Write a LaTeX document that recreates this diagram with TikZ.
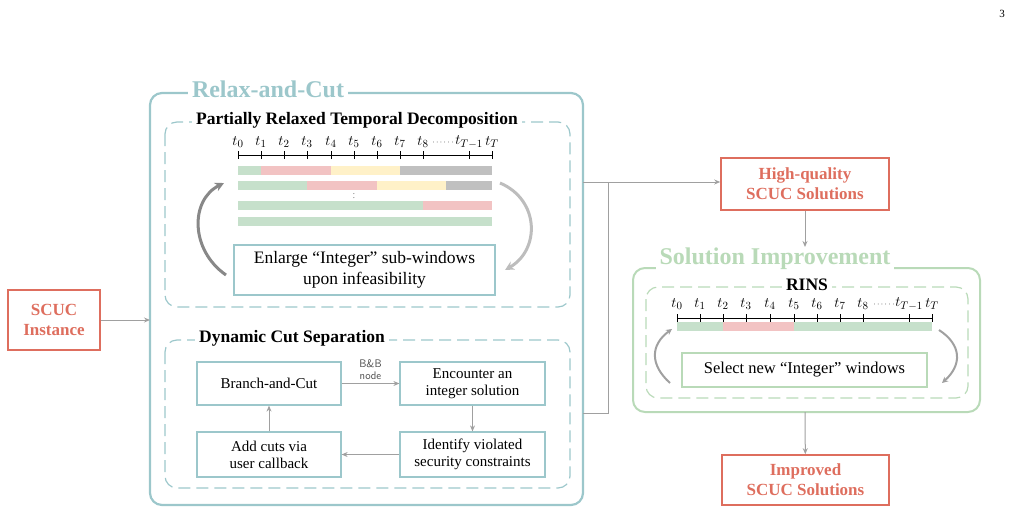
\documentclass[tikz,border=0pt]{standalone}
\usepackage{fontspec}
\setmainfont{Liberation Serif}
\usetikzlibrary{arrows.meta}
\definecolor{teal1}{HTML}{9CC7CB}
\definecolor{grn1}{HTML}{B9DAB8}
\definecolor{red1}{HTML}{DE6E5E}
\definecolor{barg}{HTML}{C6E0CB}
\definecolor{barp}{HTML}{F2C3C3}
\definecolor{bary}{HTML}{FFF1C8}
\definecolor{bargr}{HTML}{C0C0C0}
\definecolor{arr}{HTML}{A0A0A0}
\tikzset{
 redbox/.style={draw=red1,line width=1.6pt,text=red1,font=\bfseries\fontsize{17}{20}\selectfont,align=center,inner sep=0},
 tbox/.style={draw=teal1,line width=1.2pt,align=center,font=\fontsize{15}{17}\selectfont,inner sep=0},
 gbox/.style={draw=grn1,line width=1.2pt,align=center,font=\fontsize{15}{17}\selectfont,inner sep=0},
 conn/.style={draw=arr,line width=1pt,-{Stealth[length=6pt,width=5pt]}},
 curv/.style={draw=arr!85!black,line width=3pt,-{Stealth[length=9pt,width=9pt]}},
 curvs/.style={draw=arr,line width=2pt,-{Stealth[length=6pt,width=6pt]}},
 title/.style={fill=white,inner xsep=4pt,inner ysep=1pt,font=\bfseries},
 tl/.style={font=\fontsize{15}{16}\selectfont,inner sep=0}
}
\begin{document}
\begin{tikzpicture}[x=1pt,y=-1pt]
\useasboundingbox (0,0) rectangle (1014,514);
\node at (1002,14) {\fontsize{11}{12}\selectfont 3};
% SCUC instance
\node[redbox,minimum width=92,minimum height=60] (inst) at (54,320) {SCUC\\Instance};
% Relax-and-cut
\draw[teal1,line width=2.2pt,rounded corners=12] (150,93) rectangle (583,505);
\node[title,text=teal1,font=\bfseries\fontsize{24}{26}\selectfont] at (268,89) {Relax-and-Cut};
\coordinate (rcL) at (150,320);
\draw[conn] (inst) -- (rcL);
\draw[teal1,line width=1.2pt,dash pattern=on 12pt off 6pt,rounded corners=12] (165,122) rectangle (570,307);
\node[title,font=\bfseries\fontsize{17.5}{19}\selectfont] at (357,120) {Partially Relaxed Temporal Decomposition};
% timeline
\draw[line width=0.8pt] (238,155) -- (492,155);
\foreach \x/\l in {238/t_0,261/t_1,284/t_2,307/t_3,331/t_4,354/t_5,377/t_6,400/t_7,423/t_8,469/t_{T-1},492/t_T}{
 \draw[line width=0.8pt] (\x,151) -- (\x,159);
 \node[tl] at (\x,142) {$\l$};}
\node[tl,font=\fontsize{8}{9}\selectfont] at (443,143) {$\cdots\cdots$};
\fill[barg] (238,166) rectangle (261,175);
\fill[barp] (261,166) rectangle (331,175);
\fill[bary] (331,166) rectangle (400,175);
\fill[bargr] (400,166) rectangle (492,175);
\fill[barg] (238,181) rectangle (307,190);
\fill[barp] (307,181) rectangle (377,190);
\fill[bary] (377,181) rectangle (446,190);
\fill[bargr] (446,181) rectangle (492,190);
\node[inner sep=0,font=\fontsize{7}{7}\selectfont] at (354,195.5) {$\vdots$};
\fill[barg] (238,201) rectangle (423,210);
\fill[barp] (423,201) rectangle (492,210);
\fill[barg] (238,217) rectangle (492,226);
\node[tbox,minimum width=261,minimum height=50,font=\fontsize{17.5}{21}\selectfont] (enl) at (364.5,270) {Enlarge “Integer” sub-windows\\upon infeasibility};
\coordinate (la) at (226,275); \coordinate (lb) at (224,183);
\coordinate (ra) at (500,183); \coordinate (rb) at (505,270);
\draw[curv] (la) .. controls (190,250) and (190,200) .. (lb);
\draw[curv,draw=arr!70] (ra) .. controls (540,200) and (540,250) .. (rb);
% dynamic cut separation
\draw[teal1,line width=1.2pt,dash pattern=on 12pt off 6pt,rounded corners=12] (165,340) rectangle (570,488);
\node[title,font=\bfseries\fontsize{17.5}{19}\selectfont] at (292,338) {Dynamic Cut Separation};
\node[tbox,minimum width=144,minimum height=43] (bc) at (269,383.5) {Branch-and-Cut};
\node[tbox,minimum width=145,minimum height=43] (enc) at (472.5,383.5) {Encounter an\\integer solution};
\node[tbox,minimum width=144,minimum height=45] (add) at (269,454.5) {Add cuts via\\user callback};
\node[tbox,minimum width=145,minimum height=45] (idv) at (472.5,454.5) {Identify violated\\security constraints};
\draw[conn] (bc) -- node[above=0pt,font=\sffamily\fontsize{11}{12}\selectfont,text=black!70,align=center]{B\&B\\node} (enc);
\draw[conn] (enc) -- (idv);
\draw[conn] (idv) -- (add);
\draw[conn] (add) -- (bc);
% high quality
\node[redbox,minimum width=168,minimum height=52] (hq) at (805,184) {High-quality\\SCUC Solutions};
\coordinate (rcR1) at (583,182);
\coordinate (rcR2) at (583,413);
\coordinate (jn) at (608,182);
\draw[conn] (rcR1) -- (hq.west |- rcR1);
\draw[draw=arr,line width=1pt] (rcR2) -- (608,413) -- (jn);
% solution improvement
\draw[grn1,line width=2pt,rounded corners=12] (633,268) rectangle (980,412);
\node[title,text=grn1,font=\bfseries\fontsize{24}{26}\selectfont] at (775,259) {Solution Improvement};
\coordinate (siT) at (805,268); \coordinate (siB) at (805,412);
\draw[conn] (hq) -- (805,247);
\draw[grn1,line width=1.2pt,dash pattern=on 12pt off 6pt,rounded corners=12] (646,287) rectangle (968,398);
\node[title,font=\bfseries\fontsize{17.5}{19}\selectfont] at (807,285) {RINS};
\draw[line width=0.8pt] (677,318) -- (932,318);
\foreach \x/\l in {677/t_0,700/t_1,723/t_2,746/t_3,770/t_4,794/t_5,817/t_6,840/t_7,863/t_8,909/t_{T-1},932/t_T}{
 \draw[line width=0.8pt] (\x,314) -- (\x,322);
 \node[tl] at (\x,304) {$\l$};}
\node[tl,font=\fontsize{8}{9}\selectfont] at (884,305) {$\cdots\cdots$};
\fill[barg] (677,322) rectangle (723,331);
\fill[barp] (723,322) rectangle (794,331);
\fill[barg] (794,322) rectangle (932,331);
\node[gbox,minimum width=245,minimum height=34,font=\fontsize{16.5}{18}\selectfont] (sel) at (804.5,370) {Select new “Integer” windows};
\coordinate (sla) at (670,383); \coordinate (slb) at (672,329);
\coordinate (sra) at (939,330); \coordinate (srb) at (942,383);
\draw[curvs] (sla) .. controls (650,365) and (650,345) .. (slb);
\draw[curvs] (sra) .. controls (962,345) and (962,365) .. (srb);
% improved
\node[redbox,minimum width=167,minimum height=50] (imp) at (805.5,480) {Improved\\SCUC Solutions};
\draw[conn] (siB) -- (imp);
\end{tikzpicture}
\end{document}
